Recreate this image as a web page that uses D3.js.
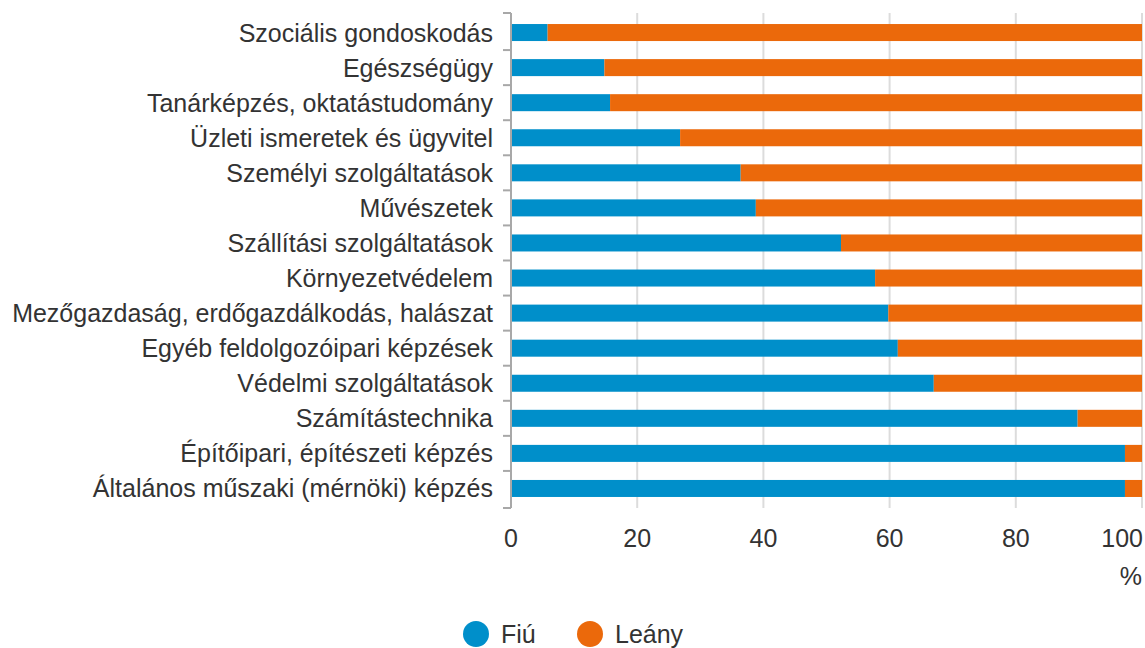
<!DOCTYPE html>
<html>
<head>
<meta charset="utf-8">
<script src="https://cdn.jsdelivr.net/npm/d3@7"></script>
<style>
  body { margin: 0; background: #fff; }
  text { font-family: "Liberation Sans", Arial, sans-serif; fill: #333; }
</style>
</head>
<body>
<svg id="chart" width="1145" height="648"></svg>
<script>
// categories, top to bottom
var categories = [
    "Szociális gondoskodás",
    "Egészségügy",
    "Tanárképzés, oktatástudomány",
    "Üzleti ismeretek és ügyvitel",
    "Személyi szolgáltatások",
    "Művészetek",
    "Szállítási szolgáltatások",
    "Környezetvédelem",
    "Mezőgazdaság, erdőgazdálkodás, halászat",
    "Egyéb feldolgozóipari képzések",
    "Védelmi szolgáltatások",
    "Számítástechnika",
    "Építőipari, építészeti képzés",
    "Általános műszaki (mérnöki) képzés"
];
// share of boys (%), girls = 100 - boys
var fiu = [5.8, 14.8, 15.7, 26.8, 36.4, 38.8, 52.3, 57.7, 59.8, 61.3, 67.0, 89.8, 97.3, 97.3];
var leany = fiu.map(function(v) { return +(100 - v).toFixed(1); });
var xTicks = [0, 20, 40, 60, 80, 100];
var seriesNames = ["Fiú", "Leány"];
var colors = ["#008fca", "#eb690b"];

var margin = {top: 15, left: 511, right: 3};
var width = 1145 - margin.left - margin.right;
var plotH = 491;
var fontSize = "25px";

var svg = d3.select("#chart");
var g = svg.append("g").attr("transform", `translate(${margin.left},${margin.top})`);

var x = d3.scaleLinear().domain([0, 100]).range([0, width]);
var y = d3.scaleBand().domain(categories).range([0, plotH]).paddingInner(0.515).paddingOuter(0.2575);

/** gridlines */
g.selectAll(".grid").data(xTicks.slice(1)).join("line")
    .attr("class", "grid")
    .attr("x1", d => x(d)).attr("x2", d => x(d))
    .attr("y1", -2).attr("y2", plotH + 2)
    .attr("stroke", "#dcdcdc").attr("stroke-width", 2);

/** stacked bars */
var stackData = categories.map(function(c, i) { return {cat: c, fiu: fiu[i], leany: leany[i]}; });
var stacked = d3.stack().keys(["fiu", "leany"])(stackData);

g.selectAll(".series").data(stacked).join("g")
    .attr("class", "series")
    .attr("fill", (d, i) => colors[i])
    .selectAll("rect").data(d => d).join("rect")
    .attr("x", d => x(d[0]))
    .attr("width", d => x(d[1]) - x(d[0]))
    .attr("y", d => y(d.data.cat))
    .attr("height", y.bandwidth());

/** y axis with ticks between the bands */
var axisColor = "#a8a8a8";
g.append("line")
    .attr("x1", 0).attr("x2", 0).attr("y1", -2).attr("y2", plotH + 2)
    .attr("stroke", axisColor).attr("stroke-width", 2);
var bounds = d3.range(categories.length + 1).map(i => i * y.step());
bounds[0] = -2; bounds[bounds.length - 1] = plotH + 2;
g.selectAll(".ytick").data(bounds).join("line")
    .attr("class", "ytick")
    .attr("x1", -8).attr("x2", 0)
    .attr("y1", d => d).attr("y2", d => d)
    .attr("stroke", axisColor).attr("stroke-width", 2);

/** category labels */
g.selectAll(".ylabel").data(categories).join("text")
    .attr("class", "ylabel")
    .attr("x", -18)
    .attr("y", d => y(d) + y.bandwidth() / 2)
    .attr("dy", "0.36em")
    .attr("text-anchor", "end")
    .style("font-size", fontSize)
    .text(d => d);

/** x tick labels */
g.selectAll(".xlabel").data(xTicks).join("text")
    .attr("class", "xlabel")
    .attr("x", d => x(d))
    .attr("y", 532)
    .attr("text-anchor", d => d === 100 ? "end" : "middle")
    .attr("dx", d => d === 100 ? 1 : 0)
    .style("font-size", fontSize)
    .text(d => d);

g.append("text")
    .attr("x", x(100)).attr("y", 570)
    .attr("text-anchor", "end")
    .style("font-size", fontSize)
    .text("%");

/** legend */
var legend = svg.append("g").attr("transform", "translate(476,634)");
var legendX = [0, 114];
legend.selectAll("circle").data(seriesNames).join("circle")
    .attr("cx", (d, i) => legendX[i]).attr("cy", 0).attr("r", 13)
    .attr("fill", (d, i) => colors[i]);
legend.selectAll("text").data(seriesNames).join("text")
    .attr("x", (d, i) => legendX[i] + 25).attr("y", 9)
    .style("font-size", fontSize)
    .text(d => d);
</script>
</body>
</html>
